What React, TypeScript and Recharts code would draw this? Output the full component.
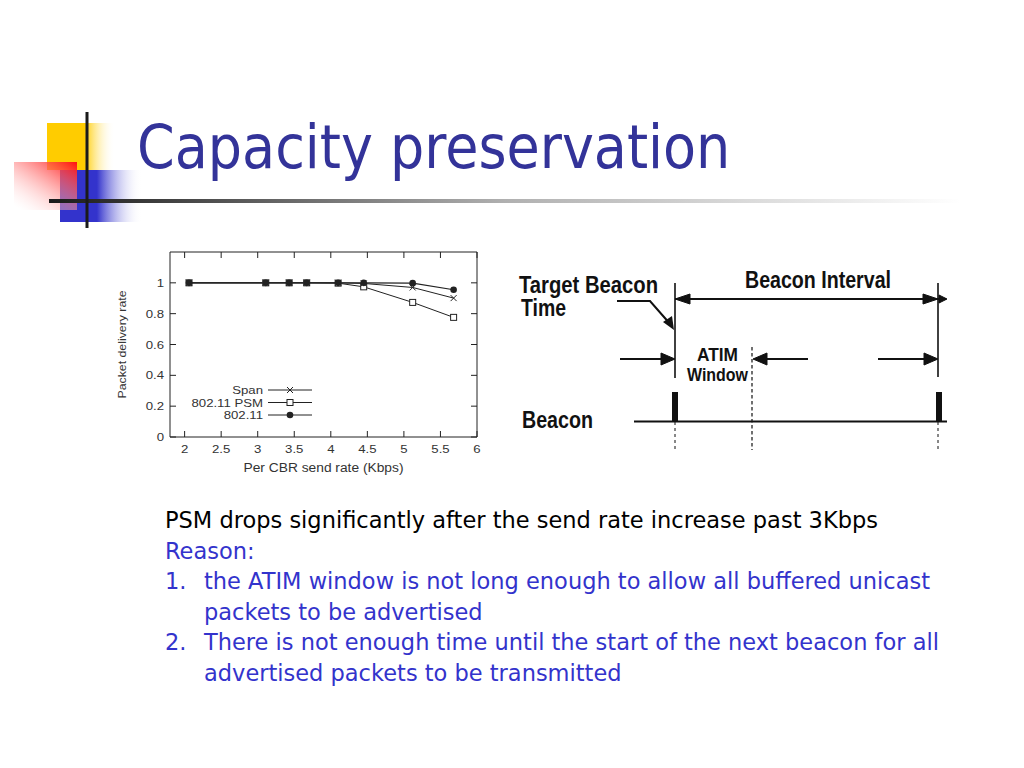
import React from 'react';
import { LineChart, Line, XAxis, YAxis, ReferenceArea, Legend } from 'recharts';

// values
const sendRate = [2.06, 3.11, 3.43, 3.67, 4.1, 4.45, 5.12, 5.68];
const spanRate = [1, 1, 1, 1, 1, 0.996, 0.97, 0.901];
const psmRate = [1, 1, 1, 1, 0.998, 0.974, 0.873, 0.776];
const dot11Rate = [1, 1, 1, 1, 1, 1, 0.998, 0.955];

const xTicks = [2, 2.5, 3, 3.5, 4, 4.5, 5, 5.5, 6];
const yTicks = [0, 0.2, 0.4, 0.6, 0.8, 1];
const legendNames = ['Span', '802.11 PSM', '802.11'];

const data = sendRate.map((x, i) => ({
  x,
  span: spanRate[i],
  psm: psmRate[i],
  dot11: dot11Rate[i],
}));

const CHART_W = 380;
const CHART_H = 240;
const MARGIN = { top: 7, right: 13, left: 0, bottom: 0 };
const Y_W = 60;
const X_H = 48;
const PLOT_W = CHART_W - MARGIN.left - MARGIN.right - Y_W;
const PLOT_H = CHART_H - MARGIN.top - MARGIN.bottom - X_H;

const INK = '#222';
const LABEL = '#333';
const chartFont = '"Liberation Sans", Arial, sans-serif';
const bodyFont = '"DejaVu Sans", Verdana, sans-serif';
// the figure in the slide is stretched sideways a little
const STRETCH = 'scale(1.2,1)';

const Cross = ({ cx, cy }: any) => (
  <path
    d={`M${cx - 3},${cy - 3}L${cx + 3},${cy + 3}M${cx - 3},${cy + 3}L${cx + 3},${cy - 3}`}
    stroke={INK}
    strokeWidth={1}
  />
);
const Square = ({ cx, cy }: any) => (
  <rect x={cx - 3} y={cy - 3} width={6} height={6} fill="#fff" stroke={INK} strokeWidth={1} />
);
const Disc = ({ cx, cy }: any) => <circle cx={cx} cy={cy} r={3.3} fill={INK} />;

const markers: Record<string, any> = { 'Span': Cross, '802.11 PSM': Square, '802.11': Disc };

const XTick = ({ x, y, payload }: any) => (
  <g>
    <line x1={x} x2={x} y1={y} y2={y - 6} stroke={INK} />
    <line x1={x} x2={x} y1={y - PLOT_H} y2={y - PLOT_H + 6} stroke={INK} />
    <text
      transform={`translate(${x},${y + 16}) ${STRETCH}`}
      textAnchor="middle"
      fontSize={11}
      fill={LABEL}
      fontFamily={chartFont}
    >
      {payload.value}
    </text>
  </g>
);

const YTick = ({ x, y, payload }: any) => (
  <g>
    <line x1={x} x2={x + 6} y1={y} y2={y} stroke={INK} />
    <line x1={x + PLOT_W - 6} x2={x + PLOT_W} y1={y} y2={y} stroke={INK} />
    <text
      transform={`translate(${x - 6},${y + 4}) ${STRETCH}`}
      textAnchor="end"
      fontSize={11}
      fill={LABEL}
      fontFamily={chartFont}
    >
      {payload.value}
    </text>
  </g>
);

const XLabel = ({ viewBox }: any) => (
  <text
    x={viewBox.x + viewBox.width / 2 - 80}
    y={viewBox.y + 35}
    fontSize={12.5}
    fill={LABEL}
    fontFamily={chartFont}
    textLength={160}
    lengthAdjust="spacingAndGlyphs"
  >
    Per CBR send rate (Kbps)
  </text>
);

const YLabel = ({ viewBox }: any) => (
  <text
    transform={`translate(16,${viewBox.y + viewBox.height / 2 + 54}) rotate(-90)`}
    fontSize={11.5}
    fill={LABEL}
    fontFamily={chartFont}
    textLength={108}
    lengthAdjust="spacingAndGlyphs"
  >
    Packet delivery rate
  </text>
);

const LegendBox = () => (
  <svg width={170} height={40} style={{ display: 'block' }}>
    {legendNames.map((name, i) => {
      const y = 8 + i * 12.5;
      const M = markers[name];
      return (
        <g key={name}>
          <text
            transform={`translate(113,${y + 4}) ${STRETCH}`}
            textAnchor="end"
            fontSize={11}
            fill={LABEL}
            fontFamily={chartFont}
          >
            {name}
          </text>
          <line x1={118} x2={162} y1={y} y2={y} stroke={INK} />
          <M cx={140} cy={y} />
        </g>
      );
    })}
  </svg>
);

const DeliveryChart = () => (
  <LineChart width={CHART_W} height={CHART_H} data={data} margin={MARGIN}>
    <XAxis
      dataKey="x"
      type="number"
      domain={[1.8, 6]}
      ticks={xTicks}
      height={X_H}
      axisLine={false}
      tickLine={false}
      tickSize={0}
      tickMargin={0}
      tick={<XTick />}
      interval={0}
      label={<XLabel />}
    />
    <YAxis
      type="number"
      domain={[0, 1.2]}
      ticks={yTicks}
      width={Y_W}
      axisLine={false}
      tickLine={false}
      tickSize={0}
      tickMargin={0}
      tick={<YTick />}
      interval={0}
      label={<YLabel />}
    />
    <ReferenceArea x1={1.8} x2={6} y1={0} y2={1.2} fill="none" stroke={INK} strokeWidth={1} />
    <Line
      dataKey="psm"
      name="802.11 PSM"
      type="linear"
      stroke={INK}
      strokeWidth={1}
      dot={(p: any) => <Square key={`s${p.index}`} {...p} />}
      isAnimationActive={false}
    />
    <Line
      dataKey="span"
      name="Span"
      type="linear"
      stroke={INK}
      strokeWidth={1}
      dot={(p: any) => <Cross key={`c${p.index}`} {...p} />}
      isAnimationActive={false}
    />
    <Line
      dataKey="dot11"
      name="802.11"
      type="linear"
      stroke={INK}
      strokeWidth={1.2}
      dot={(p: any) => <Disc key={`d${p.index}`} {...p} />}
      isAnimationActive={false}
    />
    <Legend
      layout="horizontal"
      verticalAlign="middle"
      align="center"
      content={<LegendBox />}
      wrapperStyle={{ left: 40, top: 137, width: 170, height: 40 }}
    />
  </LineChart>
);

const head = (tx: number, ty: number, dir: 'l' | 'r', len = 14, half = 6) => {
  const bx = dir === 'r' ? tx - len : tx + len;
  return <polygon points={`${tx},${ty} ${bx},${ty - half} ${bx},${ty + half}`} fill="#111" />;
};

const boldFont = '"Liberation Sans", Arial, sans-serif';

const Diagram = () => (
  <g stroke="#111" fill="none">
    {/* beacon interval */}
    <line x1={675} x2={938} y1={299} y2={299} strokeWidth={2} />
    {head(675, 299, 'l', 15, 5)}
    {head(938, 299, 'r', 15, 5)}
    <line x1={938} x2={946} y1={299} y2={299} strokeWidth={2} />
    {head(947, 299, 'r', 8, 4)}
    {/* target beacon pointer */}
    <polyline points="617,301 650,301 671,325" strokeWidth={2} />
    <polygon points="674,330 663,322 672,316" fill="#111" stroke="none" />
    {/* verticals */}
    <line x1={675} x2={675} y1={283} y2={378} strokeWidth={1.6} />
    <line x1={938} x2={938} y1={283} y2={377} strokeWidth={1.6} />
    <line x1={675} x2={675} y1={422} y2={450} strokeWidth={1} strokeDasharray="3 3" />
    <line x1={938} x2={938} y1={422} y2={450} strokeWidth={1} strokeDasharray="3 3" />
    <line x1={752} x2={752} y1={347} y2={450} strokeWidth={1.2} strokeDasharray="3.5 2.5" />
    {/* ATIM arrows */}
    <line x1={620} x2={662} y1={359} y2={359} strokeWidth={2} />
    {head(675, 359, 'r', 14, 6)}
    <line x1={766} x2={808} y1={359} y2={359} strokeWidth={2} />
    {head(753, 359, 'l', 14, 6)}
    <line x1={878} x2={925} y1={359} y2={359} strokeWidth={2} />
    {head(938, 359, 'r', 14, 6)}
    {/* beacon line */}
    <line x1={634} x2={947} y1={421.5} y2={421.5} strokeWidth={2} />
    <rect x={672} y={392} width={6} height={30} fill="#111" stroke="none" />
    <rect x={936} y={392} width={6} height={30} fill="#111" stroke="none" />
    <g fill="#111" stroke="none" fontFamily={boldFont} fontWeight="bold">
      <text x={519} y={292.5} fontSize={23} textLength={139} lengthAdjust="spacingAndGlyphs">Target Beacon</text>
      <text x={521} y={316} fontSize={23} textLength={45} lengthAdjust="spacingAndGlyphs">Time</text>
      <text x={745} y={288} fontSize={23} textLength={146} lengthAdjust="spacingAndGlyphs">Beacon Interval</text>
      <text x={697} y={361} fontSize={18.5} textLength={41} lengthAdjust="spacingAndGlyphs">ATIM</text>
      <text x={687} y={381} fontSize={18.5} textLength={61} lengthAdjust="spacingAndGlyphs">Window</text>
      <text x={522} y={428} fontSize={23} textLength={71} lengthAdjust="spacingAndGlyphs">Beacon</text>
    </g>
  </g>
);

const Decoration = () => (
  <g>
    <defs>
      <linearGradient id="yel" x1="0" x2="1" y1="0" y2="0">
        <stop offset="0" stopColor="#ffcc00" />
        <stop offset="0.55" stopColor="#ffcc00" />
        <stop offset="1" stopColor="#ffffff" stopOpacity="0" />
      </linearGradient>
      <linearGradient id="blu" x1="0" x2="1" y1="0" y2="0">
        <stop offset="0" stopColor="#3333cc" />
        <stop offset="0.45" stopColor="#3333cc" />
        <stop offset="1" stopColor="#ffffff" stopOpacity="0" />
      </linearGradient>
      <linearGradient id="red" x1="1" x2="0.1" y1="0" y2="1">
        <stop offset="0" stopColor="#ff1010" />
        <stop offset="1" stopColor="#ffffff" stopOpacity="0.2" />
      </linearGradient>
      <linearGradient id="rule" x1="0" x2="1" y1="0" y2="0">
        <stop offset="0" stopColor="#1a1a1a" />
        <stop offset="0.5" stopColor="#b0b0b0" />
        <stop offset="1" stopColor="#ffffff" />
      </linearGradient>
    </defs>
    <rect x={47} y={123} width={68} height={47} fill="url(#yel)" />
    <rect x={60} y={170} width={82} height={52} fill="url(#blu)" />
    <rect x={14} y={162} width={63} height={48} fill="url(#red)" />
    <rect x={49} y={199} width={912} height={4} fill="url(#rule)" />
    <rect x={85.5} y={112} width={3} height={116} fill="#1a1a1a" />
  </g>
);

const blue = '#3333cc';
const lineStyle: React.CSSProperties = { height: 30.6, whiteSpace: 'nowrap' };

export default function App() {
  return (
    <div
      style={{
        position: 'absolute',
        left: 0,
        top: 0,
        width: 1024,
        height: 768,
        background: '#fff',
        overflow: 'hidden',
        fontFamily: bodyFont,
      }}
    >
      <svg width={1024} height={768} style={{ position: 'absolute', left: 0, top: 0 }}>
        <Decoration />
        <Diagram />
      </svg>
      <div
        style={{
          position: 'absolute',
          left: 137,
          top: 111,
          fontSize: 60,
          lineHeight: '72px',
          color: '#333399',
          whiteSpace: 'nowrap',
          fontStretch: 'condensed',
        }}
      >
        Capacity preservation
      </div>
      <div style={{ position: 'absolute', left: 110, top: 245 }}>
        <DeliveryChart />
      </div>
      <div style={{ position: 'absolute', left: 165, top: 505, fontSize: 22.5, lineHeight: '30.6px' }}>
        <div style={{ ...lineStyle, color: '#000' }}>PSM drops significantly after the send rate increase past 3Kbps</div>
        <div style={{ ...lineStyle, color: blue }}>Reason:</div>
        <div style={{ ...lineStyle, color: blue, position: 'relative' }}>
          <span>1.</span>
          <span style={{ position: 'absolute', left: 39 }}>the ATIM window is not long enough to allow all buffered unicast</span>
        </div>
        <div style={{ ...lineStyle, color: blue, paddingLeft: 39 }}>packets to be advertised</div>
        <div style={{ ...lineStyle, color: blue, position: 'relative' }}>
          <span>2.</span>
          <span style={{ position: 'absolute', left: 39 }}>There is not enough time until the start of the next beacon for all</span>
        </div>
        <div style={{ ...lineStyle, color: blue, paddingLeft: 39 }}>advertised packets to be transmitted</div>
      </div>
    </div>
  );
}
